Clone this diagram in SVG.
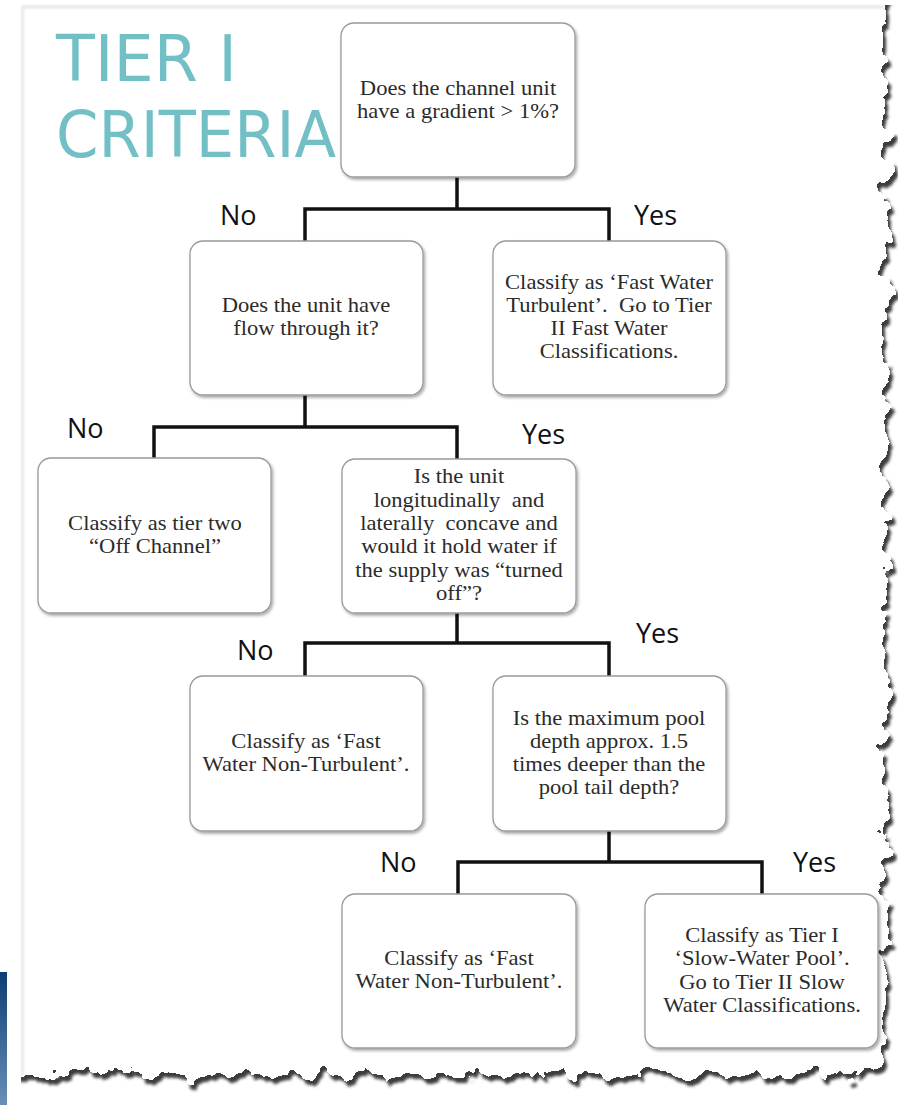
<svg xmlns="http://www.w3.org/2000/svg" width="898" height="1105" viewBox="0 0 898 1105">
  <style>
    .box { fill: #ffffff; stroke: #9a9a9a; stroke-width: 1.3; filter: url(#boxShadow); }
    .btxt { font-family: "Liberation Serif", "Times New Roman", serif; font-size: 20px; fill: #2b2b2b; text-anchor: middle; }
    .lbl { font-family: "Open Sans", "Noto Sans", sans-serif; font-size: 27px; fill: #111111; }
    .title { font-family: "DejaVu Sans", "Noto Sans", sans-serif; font-size: 64px; fill: #72c0c6; }
    .conn { fill: none; stroke: #111111; stroke-width: 3.5; stroke-linejoin: miter; stroke-linecap: butt; }
  </style>
  <defs>
    <!-- ragged paper edge with a soft cast shadow -->
    <filter id="torn" filterUnits="userSpaceOnUse" x="-60" y="-60" width="1020" height="1220">
      <feTurbulence type="fractalNoise" baseFrequency="0.05" numOctaves="3" seed="11" result="noise"/>
      <feDisplacementMap in="SourceGraphic" in2="noise" scale="30" xChannelSelector="R" yChannelSelector="G" result="paper"/>
      <feOffset in="paper" dx="3" dy="5" result="off"/>
      <feGaussianBlur in="off" stdDeviation="1.5" result="blur"/>
      <feFlood flood-color="#3c3c3c"/>
      <feComposite in2="blur" operator="in" result="shadow"/>
      <feMerge>
        <feMergeNode in="shadow"/>
        <feMergeNode in="paper"/>
      </feMerge>
    </filter>
    <filter id="boxShadow" x="-10%" y="-10%" width="125%" height="125%">
      <feDropShadow dx="1.5" dy="2" stdDeviation="1.5" flood-color="#000000" flood-opacity="0.35"/>
    </filter>
    <filter id="soft" x="-5%" y="-5%" width="110%" height="110%">
      <feGaussianBlur stdDeviation="1"/>
    </filter>
    <linearGradient id="sideBar" x1="0" y1="0" x2="0" y2="1">
      <stop offset="0" stop-color="#0b3d73"/>
      <stop offset="1" stop-color="#6a8fb8"/>
    </linearGradient>
  </defs>

  <!-- background and sheet -->
  <rect x="0" y="0" width="898" height="1105" fill="#ffffff"/>
  <rect x="-40" y="-40" width="926" height="1115" fill="#ffffff" filter="url(#torn)"/>
  <rect x="0" y="0" width="21" height="1105" fill="#ffffff"/>
  <rect x="0" y="0" width="898" height="5" fill="#ffffff"/>
  <g filter="url(#soft)">
    <line x1="22" y1="7" x2="884" y2="7" stroke="#e4e4e4" stroke-width="3"/>
    <line x1="22.5" y1="7" x2="22.5" y2="1076" stroke="#e4e4e4" stroke-width="2.5"/>
  </g>
  <rect x="0" y="972" width="7" height="133" fill="url(#sideBar)"/>

  <!-- heading -->
  <g id="title">
    <text class="title" x="56" y="81" textLength="181" lengthAdjust="spacingAndGlyphs">TIER I</text>
    <text class="title" x="56" y="157" textLength="280" lengthAdjust="spacingAndGlyphs">CRITERIA</text>
  </g>

  <!-- connectors -->
  <g id="connectors">
    <path class="conn" d="M457,177 V209 M305,241 V209 H609 V241"/>
    <path class="conn" d="M305,395 V427 M154,458 V427 H457 V459"/>
    <path class="conn" d="M457,613 V643 M305,676 V643 H609 V676"/>
    <path class="conn" d="M609,831 V862 M458,894 V862 H762 V894"/>
  </g>

  <!-- branch labels -->
  <g id="labels">
    <text class="lbl" x="220" y="225">No</text>
    <text class="lbl" x="634" y="225">Yes</text>
    <text class="lbl" x="67" y="438">No</text>
    <text class="lbl" x="522" y="444">Yes</text>
    <text class="lbl" x="237" y="660">No</text>
    <text class="lbl" x="636" y="643">Yes</text>
    <text class="lbl" x="380" y="872">No</text>
    <text class="lbl" x="793" y="872">Yes</text>
  </g>

  <!-- decision and result nodes -->
  <g id="gradient-question">
    <rect class="box" x="341" y="23" width="234" height="154" rx="13"/>
    <g transform="translate(458 0) scale(1.13 1)">
      <text class="btxt" x="0" y="95">Does the channel unit</text>
      <text class="btxt" x="0" y="118">have a gradient &gt; 1%?</text>
    </g>
  </g>

  <g id="flow-question">
    <rect class="box" x="190" y="241" width="233" height="154" rx="13"/>
    <g transform="translate(306 0) scale(1.13 1)">
      <text class="btxt" x="0" y="312">Does the unit have</text>
      <text class="btxt" x="0" y="335">flow through it?</text>
    </g>
  </g>

  <g id="fast-turbulent">
    <rect class="box" x="493" y="241" width="233" height="154" rx="13"/>
    <g transform="translate(609 0) scale(1.13 1)">
      <text class="btxt" x="0" y="289">Classify as ‘Fast Water</text>
      <text class="btxt" x="0" y="312">Turbulent’.&#160; Go to Tier</text>
      <text class="btxt" x="0" y="335">II Fast Water</text>
      <text class="btxt" x="0" y="358">Classifications.</text>
    </g>
  </g>

  <g id="off-channel">
    <rect class="box" x="38" y="458" width="233" height="155" rx="13"/>
    <g transform="translate(155 0) scale(1.13 1)">
      <text class="btxt" x="0" y="530">Classify as tier two</text>
      <text class="btxt" x="0" y="553">“Off Channel”</text>
    </g>
  </g>

  <g id="concave-question">
    <rect class="box" x="342" y="459" width="234" height="154" rx="13"/>
    <g transform="translate(459 0) scale(1.13 1)">
      <text class="btxt" x="0" y="483">Is the unit</text>
      <text class="btxt" x="0" y="507">longitudinally&#160; and</text>
      <text class="btxt" x="0" y="530">laterally&#160; concave and</text>
      <text class="btxt" x="0" y="553">would it hold water if</text>
      <text class="btxt" x="0" y="577">the supply was “turned</text>
      <text class="btxt" x="0" y="600">off”?</text>
    </g>
  </g>

  <g id="fast-non-turbulent-a">
    <rect class="box" x="190" y="676" width="233" height="155" rx="13"/>
    <g transform="translate(306 0) scale(1.13 1)">
      <text class="btxt" x="0" y="748">Classify as ‘Fast</text>
      <text class="btxt" x="0" y="771">Water Non-Turbulent’.</text>
    </g>
  </g>

  <g id="depth-question">
    <rect class="box" x="493" y="676" width="233" height="155" rx="13"/>
    <g transform="translate(609 0) scale(1.13 1)">
      <text class="btxt" x="0" y="725">Is the maximum pool</text>
      <text class="btxt" x="0" y="748">depth approx. 1.5</text>
      <text class="btxt" x="0" y="771">times deeper than the</text>
      <text class="btxt" x="0" y="794">pool tail depth?</text>
    </g>
  </g>

  <g id="fast-non-turbulent-b">
    <rect class="box" x="342" y="894" width="234" height="154" rx="13"/>
    <g transform="translate(459 0) scale(1.13 1)">
      <text class="btxt" x="0" y="965">Classify as ‘Fast</text>
      <text class="btxt" x="0" y="988">Water Non-Turbulent’.</text>
    </g>
  </g>

  <g id="slow-water-pool">
    <rect class="box" x="645" y="894" width="233" height="154" rx="13"/>
    <g transform="translate(762 0) scale(1.13 1)">
      <text class="btxt" x="0" y="942">Classify as Tier I</text>
      <text class="btxt" x="0" y="965">‘Slow-Water Pool’.</text>
      <text class="btxt" x="0" y="989">Go to Tier II Slow</text>
      <text class="btxt" x="0" y="1012">Water Classifications.</text>
    </g>
  </g>
</svg>
